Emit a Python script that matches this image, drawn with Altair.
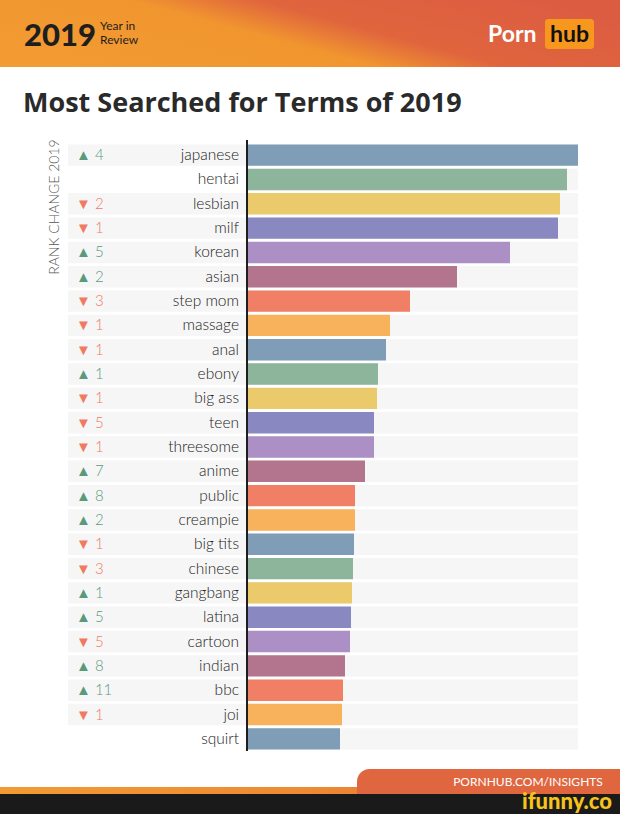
import altair as alt
import pandas as pd

terms = ["japanese", "hentai", "lesbian", "milf", "korean", "asian", "step mom", "massage",
         "anal", "ebony", "big ass", "teen", "threesome", "anime", "public", "creampie",
         "big tits", "chinese", "gangbang", "latina", "cartoon", "indian", "bbc", "joi", "squirt"]
values = [330, 319, 312, 310, 262, 209, 162, 142, 138, 130, 129, 126, 126, 117, 107, 107,
          106, 105, 104, 103, 102, 97, 95, 94, 92]
rank_change = [4, None, -2, -1, 5, 2, -3, -1, -1, 1, -1, -5, -1, 7, 8, 2,
               -1, -3, 1, 5, -5, 8, 11, -1, None]
palette = ["#7f9db6", "#8db59c", "#ebca6b", "#8a88c1", "#ab8fc5", "#b3748d", "#f07f66", "#f8b25c"]

rows = []
for i, (t, v, r) in enumerate(zip(terms, values, rank_change)):
    if r is None:
        lab, d = "", "none"
    elif r > 0:
        lab, d = "▲ " + str(r), "up"
    else:
        lab, d = "▼ " + str(-r), "down"
    rows.append({"term": t, "value": v, "ci": i % 8, "rank": lab, "dir": d})
df = pd.DataFrame(rows)

W, H = 330, 608
OX, OY = 248, 143
FONT = "Lato"

ysc = alt.Y("term:N", sort=terms, axis=None,
            scale=alt.Scale(paddingInner=0.12, paddingOuter=0.06))
xsc = alt.X("value:Q", axis=None, scale=alt.Scale(domain=[0, 330], nice=False))

base = alt.Chart(df)

bg_right = base.mark_rect(color="#f6f6f6").encode(
    y=ysc, x=alt.value(0), x2=alt.value(W))
bg_left = base.transform_filter("datum.dir != 'none'").mark_rect(color="#f6f6f6").encode(
    y=ysc, x=alt.value(68 - OX), x2=alt.value(0))
bars = base.mark_bar(cornerRadius=0).encode(
    y=ysc, x=xsc,
    color=alt.Color("ci:O", legend=None,
                    scale=alt.Scale(domain=list(range(8)), range=palette)))
labels = base.mark_text(align="right", baseline="middle", font=FONT, fontSize=15.5,
                        fontWeight=300, color="#222222").encode(
    y=ysc, x=alt.value(239 - OX), text="term:N")
ranks = base.transform_filter("datum.dir != 'none'").mark_text(
    align="left", baseline="middle", font=FONT, fontSize=15, fontWeight=300).encode(
    y=ysc, x=alt.value(76 - OX), text="rank:N",
    fill=alt.Fill("dir:N", legend=None,
                  scale=alt.Scale(domain=["up", "down"], range=["#5a9a7c", "#f07a5f"])))

one = alt.Chart(pd.DataFrame({"a": [0]}))

axis_rule = one.mark_rule(color="#1e1e1e", strokeWidth=2).encode(
    x=alt.value(-1), y=alt.value(140 - OY), y2=alt.value(H))

rank_title = one.mark_text(text="RANK CHANGE 2019", angle=270, align="center",
                           baseline="middle", font=FONT, fontSize=14, fontWeight=300,
                           color="#555555").encode(
    x=alt.value(55 - OX), y=alt.value(207 - OY))

header = one.mark_rect(fill=alt.Gradient(
    gradient="linear", x1=0, y1=0.7, x2=1, y2=0.3,
    stops=[alt.GradientStop(offset=0, color="#f39a33"),
           alt.GradientStop(offset=0.42, color="#f1962f"),
           alt.GradientStop(offset=0.6, color="#e0653d"),
           alt.GradientStop(offset=1, color="#dc5c42")])).encode(
    x=alt.value(-OX), x2=alt.value(620 - OX), y=alt.value(-OY), y2=alt.value(67 - OY))

y2019 = one.mark_text(text="2019", align="left", baseline="alphabetic", font=FONT,
                      fontSize=31, fontWeight=900, color="#1e1e1e").encode(
    x=alt.value(24 - OX), y=alt.value(46 - OY))
yir1 = one.mark_text(text="Year in", align="left", baseline="alphabetic", font=FONT,
                     fontSize=12, color="#1e1e1e").encode(
    x=alt.value(100 - OX), y=alt.value(30 - OY))
yir2 = one.mark_text(text="Review", align="left", baseline="alphabetic", font=FONT,
                     fontSize=12, color="#1e1e1e").encode(
    x=alt.value(100 - OX), y=alt.value(44 - OY))

porn = one.mark_text(text="Porn", align="left", baseline="alphabetic", font=FONT,
                     fontSize=23, fontWeight="bold", color="#ffffff").encode(
    x=alt.value(488 - OX), y=alt.value(42 - OY))
hubbox = one.mark_rect(color="#f7971d", cornerRadius=3).encode(
    x=alt.value(545 - OX), x2=alt.value(594 - OX), y=alt.value(19 - OY), y2=alt.value(49 - OY))
hub = one.mark_text(text="hub", align="center", baseline="alphabetic", font=FONT,
                    fontSize=23, fontWeight="bold", color="#111111").encode(
    x=alt.value(569.5 - OX), y=alt.value(42 - OY))

title = one.mark_text(text="Most Searched for Terms of 2019", align="left",
                      baseline="alphabetic", font="Open Sans", fontSize=27, fontWeight="bold",
                      color="#2a2a2a").encode(
    x=alt.value(23 - OX), y=alt.value(112 - OY))

stripe = one.mark_rect(fill=alt.Gradient(
    gradient="linear", x1=0, y1=0, x2=1, y2=0,
    stops=[alt.GradientStop(offset=0, color="#f39a33"),
           alt.GradientStop(offset=0.5, color="#ee8a33"),
           alt.GradientStop(offset=1, color="#e0603f")])).encode(
    x=alt.value(-OX), x2=alt.value(620 - OX), y=alt.value(787 - OY), y2=alt.value(794 - OY))
tab = one.mark_rect(color="#e0663f", cornerRadiusTopLeft=20).encode(
    x=alt.value(357 - OX), x2=alt.value(620 - OX), y=alt.value(769 - OY), y2=alt.value(794 - OY))
tab_text = one.mark_text(text="PORNHUB.COM/INSIGHTS", align="center", baseline="middle",
                         font=FONT, fontSize=12, color="#ffffff").encode(
    x=alt.value(528 - OX), y=alt.value(782 - OY))
black = one.mark_rect(color="#1a1a1a").encode(
    x=alt.value(-OX), x2=alt.value(620 - OX), y=alt.value(794 - OY), y2=alt.value(814 - OY))
ifunny = one.mark_text(text="ifunny.co", align="right", baseline="alphabetic", font=FONT,
                       fontSize=22, fontWeight=900, color="#f5c31c").encode(
    x=alt.value(612 - OX), y=alt.value(809 - OY))

chart = alt.layer(
    header, y2019, yir1, yir2, porn, hubbox, hub, title,
    bg_right, bg_left, bars, labels, ranks, axis_rule, rank_title,
    stripe, tab, tab_text, black, ifunny
).resolve_scale(color="independent", fill="independent").properties(
    width=W, height=H,
    padding={"left": OX, "top": OY, "right": 620 - OX - W, "bottom": 814 - OY - H},
    autosize=alt.AutoSizeParams(type="none"),
    background="#ffffff",
).configure_view(strokeWidth=0)

chart.save("out.html", embed_options={"renderer": "svg", "actions": False})
